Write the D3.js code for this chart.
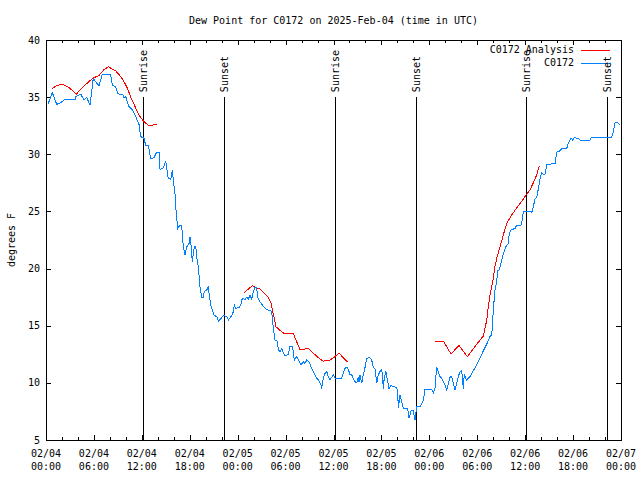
<!DOCTYPE html>
<html><head><meta charset="utf-8">
<script src="https://cdn.jsdelivr.net/npm/d3@7"></script>
<style>body{margin:0;background:#fff}svg{display:block}text{font-family:"DejaVu Sans Mono",monospace;font-size:10px;fill:#000}</style>
</head><body><div id="chart"></div>
<script>
// hours since 2025-02-04 00:00 UTC
const obsHours = [0.25,0.79,1.34,1.84,2.25,3.63,3.72,4.35,4.76,5.10,5.51,5.92,6.22,6.64,7.05,8.10,8.30,8.73,9.02,9.64,9.77,9.98,10.39,10.81,11.23,11.65,11.86,12.27,12.48,12.81,13.11,13.52,13.86,14.15,14.28,14.69,14.99,15.31,15.62,15.82,15.94,16.15,16.28,16.49,16.78,16.99,17.19,17.41,17.62,17.91,18.03,18.16,18.32,18.57,18.75,18.87,19.07,19.28,19.50,19.70,19.82,20.12,20.32,20.45,20.62,20.82,21.07,21.38,21.58,21.79,22.00,22.20,22.63,22.83,23.25,23.45,23.58,23.75,24.17,24.42,24.58,24.92,25.13,25.33,25.55,25.76,25.96,26.17,26.38,26.51,26.80,27.01,27.34,27.64,28.17,28.34,28.46,28.68,28.89,29.01,29.09,29.30,29.55,29.74,29.93,30.34,30.55,30.84,30.97,31.09,31.39,31.59,31.93,32.22,32.43,32.65,32.93,33.27,33.60,33.90,34.10,34.44,34.52,34.72,34.94,35.15,35.35,35.56,35.78,35.98,36.19,37.03,37.23,37.44,37.65,37.85,38.07,38.28,38.48,38.69,38.91,39.11,39.19,39.32,39.53,39.73,39.95,40.16,40.57,40.78,40.99,41.20,41.41,41.61,41.82,42.04,42.16,42.24,42.36,42.57,42.79,42.95,43.20,43.49,43.92,44.04,44.12,44.33,44.54,44.74,45.17,45.29,45.46,45.71,45.99,46.21,46.42,46.83,47.04,47.25,47.46,48.09,48.37,48.50,48.71,48.92,49.12,49.34,49.55,49.75,49.96,50.17,50.38,50.58,50.80,51.00,51.22,51.43,51.63,51.84,52.05,52.26,52.38,52.56,52.68,53.09,53.51,53.93,54.35,54.76,55.19,55.60,55.81,55.89,56.01,56.22,56.44,56.56,56.76,57.06,57.26,57.56,57.89,58.01,58.23,58.73,58.94,59.48,59.64,59.77,60.61,60.82,61.02,61.23,61.45,61.65,61.86,62.07,62.27,62.49,62.70,63.74,63.95,64.36,64.58,65.20,65.40,65.74,65.95,66.15,66.66,66.87,68.12,68.33,70.84,71.04,71.25,71.59,71.88];
const obsValues = [34.37,35.39,34.37,34.5,34.76,34.76,35.05,35.26,34.76,34.96,34.3,36.64,36.35,36.0,37.0,37.0,36.06,35.9,35.3,35.2,34.9,35.05,34.17,33.9,33.3,32.6,31.55,31.4,30.8,30.8,29.6,29.7,30.2,30.2,28.65,28.8,29.4,27.9,27.8,28.6,27.75,26.58,25.1,23.5,23.8,23.8,21.9,21.2,21.9,22.2,22.8,22.06,20.6,21.9,21.97,21.0,20.2,18.4,17.5,17.5,18.0,18.1,18.45,17.65,16.8,16.4,15.9,15.8,15.4,15.56,15.7,15.9,15.8,15.5,15.9,16.2,16.8,16.5,16.6,16.9,17.4,17.3,17.5,17.3,17.7,17.3,17.98,18.4,18.3,17.5,17.1,16.9,16.6,16.4,16.3,15.8,14.77,13.75,13.75,13.46,12.9,12.7,13.0,12.6,12.35,12.5,13.2,13.2,12.7,12.0,12.3,12.06,11.56,11.85,11.7,12.0,11.85,11.27,10.83,10.4,10.25,9.8,9.5,10.4,10.83,11.0,10.5,10.25,10.5,10.7,10.4,10.4,10.83,11.27,11.36,11.2,10.7,10.7,10.4,10.1,10.0,10.5,10.1,10.7,9.96,10.7,11.36,12.15,12.2,12.0,11.36,11.2,9.96,10.7,11.0,11.2,10.25,9.5,10.5,11.0,10.1,9.5,9.8,9.67,9.6,9.1,7.77,8.9,8.35,7.77,7.77,7.77,6.9,7.57,7.57,6.75,7.92,7.92,8.15,8.5,9.43,9.43,9.37,9.08,9.5,11.4,10.98,10.54,10.4,10.1,9.8,9.37,9.96,10.5,10.54,9.96,9.37,9.96,10.54,10.98,11.07,9.5,10.8,10.4,10.25,10.54,11.07,11.57,12.15,12.8,13.4,14.06,14.2,14.9,16.4,18.1,18.9,19.8,19.9,20.7,21.3,21.9,22.2,23.1,23.4,23.5,23.8,23.8,24.25,25.0,25.0,24.9,25.4,26.1,26.25,26.98,27.85,28.4,28.27,28.27,29.1,29.2,30.2,30.3,30.5,30.5,30.96,31.45,31.25,31.45,31.4,31.25,31.25,31.5,31.5,31.98,32.77,32.77,32.57];
// null marks a gap in the analysis series
const anaHours = [0.79,1.21,1.75,2.25,2.75,3.29,3.79,4.35,4.97,5.60,6.01,6.64,7.26,7.80,8.30,8.73,9.35,9.77,10.18,10.61,11.02,11.43,11.86,12.27,12.90,13.31,13.86,20,24.83,25.33,25.83,26.38,26.80,27.34,27.84,28.17,28.34,28.59,28.80,29.30,29.84,30.97,31.39,31.81,32.85,33.47,34.10,34.72,35.56,36.19,36.69,37.23,37.78,44,48.71,49.75,50.71,51.72,52.76,53.93,54.76,54.97,55.19,55.39,55.60,55.81,56.01,56.22,56.44,56.85,57.26,57.69,58.32,58.94,59.57,60.19,60.61,61.02,61.45,61.77];
const anaValues = [35.75,35.95,36.1,36.06,35.9,35.6,35.25,35.7,36.1,36.5,36.7,36.9,37.4,37.66,37.46,37.3,36.8,36.35,35.8,35.0,34.4,33.7,33.2,32.85,32.5,32.55,32.65,null,17.9,18.2,18.5,18.3,18.2,17.85,17.5,17.0,16.4,15.65,14.9,14.6,14.3,14.3,13.6,12.9,13.0,12.6,12.2,11.9,12.0,12.3,12.6,12.2,11.8,null,13.66,13.66,12.53,13.28,12.3,13.37,14.1,14.77,15.5,16.67,17.69,18.4,19.15,20.17,20.9,21.9,22.94,23.96,24.7,25.3,25.9,26.5,26.9,27.5,28.2,29.0];
const eventHours = [12.18, 22.32, 36.18, 46.33, 60.16, 70.30];
const eventLabels = ["Sunrise","Sunset","Sunrise","Sunset","Sunrise","Sunset"];
const yTicks = [5,10,15,20,25,30,35,40];
const seriesNames = ["C0172 Analysis","C0172"];
const seriesColors = ["#ff0000","#0080ff"];
const titleText = "Dew Point for C0172 on 2025-Feb-04 (time in UTC)";
const yLabel = "degrees F";

const W = 640, H = 480;
const m = {l:46, r:19, t:40, b:40};
const t0 = Date.UTC(2025,1,4,0,0);
const toDate = h => new Date(t0 + h*3600e3);

const svg = d3.select("#chart").append("svg").attr("width",W).attr("height",H);
const x = d3.scaleUtc().domain([toDate(0), toDate(72)]).range([m.l, W-m.r]);
const y = d3.scaleLinear().domain([5,40]).range([H-m.b, m.t]);

const g = svg.append("g").attr("shape-rendering","crispEdges");
// frame
g.append("rect").attr("x",m.l+0.5).attr("y",m.t+0.5).attr("width",W-m.r-m.l).attr("height",H-m.b-m.t)
 .attr("fill","none").attr("stroke","#000");

// x ticks: every 2h minor, 6h major
const tickHours = d3.range(0,73,2);
tickHours.forEach(h=>{
  const xx = Math.round(x(toDate(h)))+0.5;
  const len = h%6===0 ? 5 : 3;
  g.append("line").attr("x1",xx).attr("x2",xx).attr("y1",H-m.b).attr("y2",H-m.b-len).attr("stroke","#000");
  g.append("line").attr("x1",xx).attr("x2",xx).attr("y1",m.t).attr("y2",m.t+len).attr("stroke","#000");
});
const fmtD = d3.utcFormat("%m/%d"), fmtT = d3.utcFormat("%H:%M");
d3.range(0,73,6).forEach(h=>{
  const d = toDate(h);
  const t = svg.append("text").attr("x",x(d)).attr("y",457).attr("text-anchor","middle");
  t.append("tspan").attr("x",x(d)).text(fmtD(d));
  t.append("tspan").attr("x",x(d)).attr("dy",12.5).text(fmtT(d));
});
// y ticks
yTicks.forEach(v=>{
  const yy = Math.round(y(v))+0.5;
  g.append("line").attr("x1",m.l).attr("x2",m.l+5).attr("y1",yy).attr("y2",yy).attr("stroke","#000");
  g.append("line").attr("x1",W-m.r).attr("x2",W-m.r-5).attr("y1",yy).attr("y2",yy).attr("stroke","#000");
  svg.append("text").attr("x",40).attr("y",y(v)).attr("dy","0.35em").attr("text-anchor","end").text(v);
});

// event lines
eventHours.forEach((h,i)=>{
  const xx = Math.round(x(toDate(h)))+0.5;
  g.append("line").attr("x1",xx).attr("x2",xx).attr("y1",y(5)).attr("y2",y(35)).attr("stroke","#000");
  svg.append("text").attr("transform",`translate(${xx},${y(35)-5}) rotate(-90)`)
    .attr("dy","0.35em").attr("text-anchor","start").text(eventLabels[i]);
});

// data
const obs = obsHours.map((h,i)=>({d:toDate(h), v:obsValues[i]}));
const ana = anaHours.map((h,i)=>({d:toDate(h), v:anaValues[i]}));
const line = d3.line().defined(p=>p.v!==null).x(p=>x(p.d)).y(p=>y(p.v));
svg.append("path").datum(ana).attr("d",line).attr("fill","none").attr("stroke",seriesColors[0]).attr("stroke-width",1).attr("shape-rendering","crispEdges");
svg.append("path").datum(obs).attr("d",line).attr("fill","none").attr("stroke",seriesColors[1]).attr("stroke-width",1).attr("shape-rendering","crispEdges");

// title and axis label
svg.append("text").attr("x",(m.l+W-m.r)/2).attr("y",24).attr("text-anchor","middle").text(titleText);
svg.append("text").attr("transform",`translate(11,${(m.t+H-m.b)/2}) rotate(-90)`).attr("dy","0.35em").attr("text-anchor","middle").text(yLabel);

// legend
seriesNames.forEach((n,i)=>{
  const yy = 49.5 + i*13;
  svg.append("text").attr("x",574).attr("y",yy).attr("dy","0.35em").attr("text-anchor","end").text(n);
  g.append("line").attr("x1",581).attr("x2",610).attr("y1",Math.round(yy)+0.5).attr("y2",Math.round(yy)+0.5).attr("stroke",seriesColors[i]);
});
</script></body></html>
